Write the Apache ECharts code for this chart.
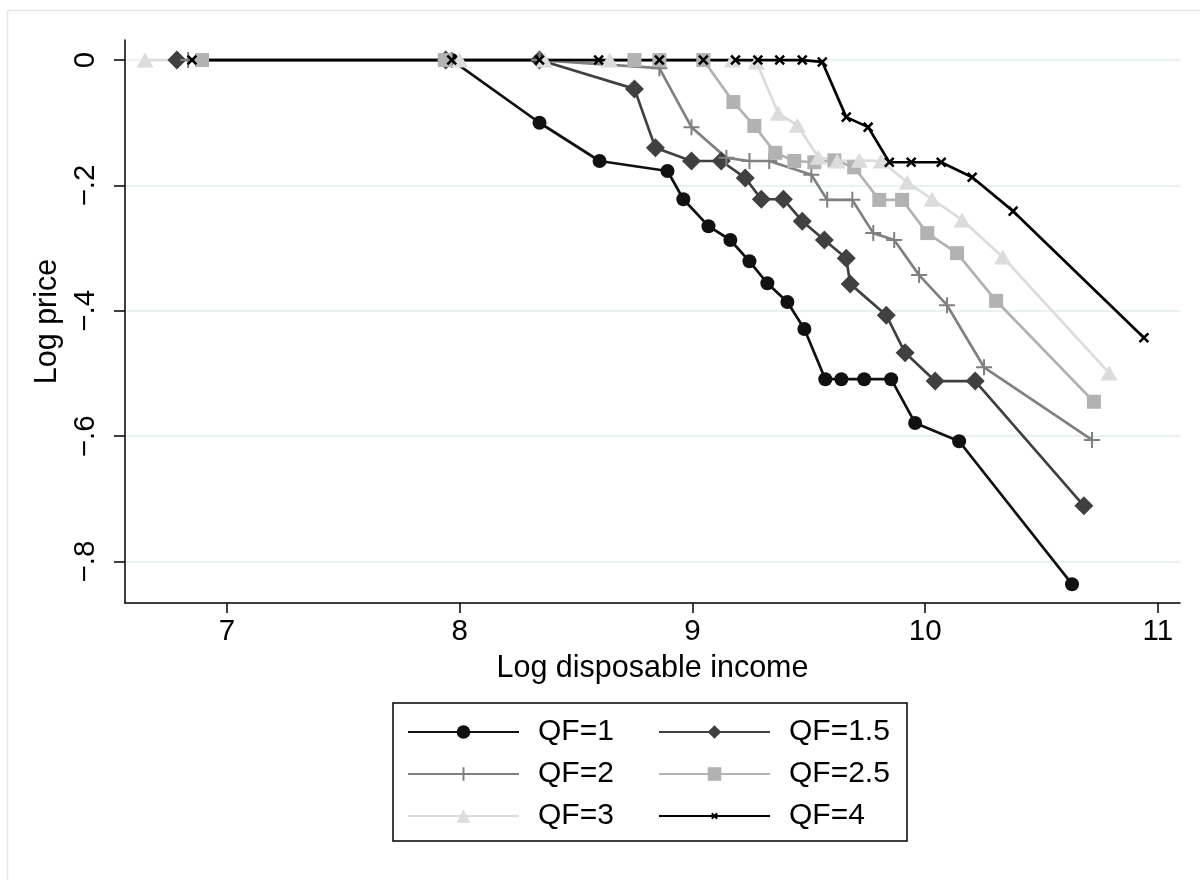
<!DOCTYPE html>
<html><head><meta charset="utf-8">
<script src="https://cdn.jsdelivr.net/npm/echarts@6/dist/echarts.min.js"></script>
<style>html,body{margin:0;padding:0;background:#fff}#c{width:1200px;height:880px}</style>
</head><body><div id="c"></div>
<script>
// Tick values
const xTicks = [7, 8, 9, 10, 11];
const yTicks = [0, -0.2, -0.4, -0.6, -0.8];
const seriesNames = ['QF=1', 'QF=1.5', 'QF=2', 'QF=2.5', 'QF=3', 'QF=4'];

// [log disposable income, log price]
const qf1 = [[7.966,0],[8.343,-0.100],[8.601,-0.161],[8.893,-0.177],[8.961,-0.222],[9.069,-0.265],[9.163,-0.287],[9.245,-0.321],[9.322,-0.356],[9.408,-0.386],[9.481,-0.429],[9.571,-0.509],[9.640,-0.509],[9.738,-0.509],[9.854,-0.509],[9.957,-0.579],[10.146,-0.608],[10.631,-0.836]];
const qf15 = [[6.785,0],[7.940,0],[8.343,0],[8.751,-0.046],[8.841,-0.140],[8.996,-0.161],[9.124,-0.161],[9.227,-0.188],[9.296,-0.222],[9.391,-0.222],[9.472,-0.257],[9.567,-0.287],[9.661,-0.316],[9.678,-0.357],[9.833,-0.407],[9.914,-0.467],[10.043,-0.512],[10.215,-0.512],[10.682,-0.711]];
const qf2 = [[6.833,0],[7.966,0],[8.343,0],[8.858,-0.013],[8.996,-0.107],[9.146,-0.156],[9.245,-0.161],[9.330,-0.161],[9.511,-0.183],[9.579,-0.223],[9.687,-0.223],[9.777,-0.276],[9.867,-0.287],[9.974,-0.343],[10.094,-0.391],[10.253,-0.490],[10.717,-0.606]];
const qf25 = [[6.893,0],[7.936,0],[8.751,0],[8.858,0],[9.047,0],[9.176,-0.067],[9.266,-0.105],[9.356,-0.148],[9.438,-0.161],[9.524,-0.163],[9.610,-0.160],[9.695,-0.171],[9.803,-0.223],[9.901,-0.223],[10.009,-0.276],[10.137,-0.308],[10.305,-0.384],[10.725,-0.545]];
const qf3 = [[6.648,0],[8.000,0],[8.363,0],[8.644,0],[9.172,0],[9.275,-0.003],[9.369,-0.085],[9.451,-0.104],[9.541,-0.155],[9.622,-0.161],[9.717,-0.160],[9.811,-0.161],[9.923,-0.195],[10.030,-0.222],[10.159,-0.255],[10.333,-0.314],[10.790,-0.499]];
const qf4 = [[6.850,0],[7.966,0],[8.343,0],[8.597,0],[8.858,0],[9.047,0],[9.185,0],[9.281,0],[9.375,0],[9.472,0],[9.558,-0.003],[9.661,-0.091],[9.755,-0.107],[9.846,-0.163],[9.940,-0.163],[10.069,-0.163],[10.202,-0.187],[10.378,-0.241],[10.940,-0.443]];

const FONT = '"Liberation Sans", Arial, Helvetica, sans-serif';
const PLUS = 'path://M0,5L10,5M5,0L5,10';
const CROSS = 'path://M-10,-10M10,10M-4,-4L4,4M4,-4L-4,4';

function mk(name, data, color, symbol, size, stroke) {
  return {
    name: name, type: 'line', data: data,
    symbol: symbol, symbolSize: size, showSymbol: true,
    lineStyle: { color: color, width: 2.7 },
    itemStyle: stroke ? { color: color, borderColor: color, borderWidth: stroke } : { color: color, borderWidth: 0 },
    emphasis: { disabled: true }, silent: true, animation: false
  };
}

const chart = echarts.init(document.getElementById('c'), null, { renderer: 'canvas' });
chart.setOption({
  backgroundColor: '#fff',
  animation: false,
  graphic: [{ type: 'rect', shape: { x: 7.5, y: 10.5, width: 1300, height: 1000 }, style: { fill: 'none', stroke: '#e3eaec', lineWidth: 1.5 }, silent: true }],
  grid: { left: 125, right: 20, top: 40, bottom: 277 },
  xAxis: {
    type: 'value', min: 6.562, max: 11.095,
    name: 'Log disposable income', nameLocation: 'middle', nameGap: 50,
    nameTextStyle: { fontSize: 30.5, fontFamily: FONT, color: '#000' },
    axisLine: { onZero: false, lineStyle: { color: '#000', width: 1.5 } },
    axisTick: { customValues: xTicks, length: 10, lineStyle: { color: '#000', width: 1.5 } },
    axisLabel: { customValues: xTicks, fontSize: 29.5, fontFamily: FONT, color: '#000', margin: 14 },
    splitLine: { show: false }
  },
  yAxis: {
    type: 'value', min: -0.866, max: 0.032,
    name: 'Log price', nameLocation: 'middle', nameGap: 62, nameRotate: 90,
    nameTextStyle: { fontSize: 30.5, fontFamily: FONT, color: '#000' },
    axisLine: { show: true, onZero: false, lineStyle: { color: '#000', width: 1.5 } },
    axisTick: { show: true, customValues: yTicks, length: 11, lineStyle: { color: '#000', width: 1.5 } },
    axisLabel: {
      customValues: yTicks, rotate: 90, fontSize: 29.5, fontFamily: FONT, color: '#000', margin: 24,
      formatter: function (v) { return v === 0 ? '0' : (v < 0 ? '\u2212' : '') + String(Math.abs(v)).replace(/^0/, ''); }
    },
    splitLine: { show: true, lineStyle: { color: '#e9f1f2', width: 2 } }
  },
  legend: {
    data: seriesNames, left: 393, top: 703, orient: 'horizontal', width: 490,
    itemWidth: 111, itemHeight: 17, itemGap: 12,
    padding: [14, 10, 10, 14],
    borderColor: '#000', borderWidth: 1.5, backgroundColor: '#fff',
    selectedMode: false,
    textStyle: { fontSize: 30, fontFamily: FONT, color: '#000', width: 108, lineHeight: 27, padding: [0, 0, 0, 14] }
  },
  series: [
    mk('QF=1', qf1, '#111111', 'circle', 14),
    mk('QF=1.5', qf15, '#404040', 'diamond', 19),
    mk('QF=2', qf2, '#808080', PLUS, 16, 2),
    mk('QF=2.5', qf25, '#b2b2b2', 'rect', 14),
    mk('QF=3', qf3, '#dcdcdc', 'triangle', [17, 15]),
    mk('QF=4', qf4, '#000000', CROSS, 22, 2.5)
  ]
});
</script>
</body></html>
